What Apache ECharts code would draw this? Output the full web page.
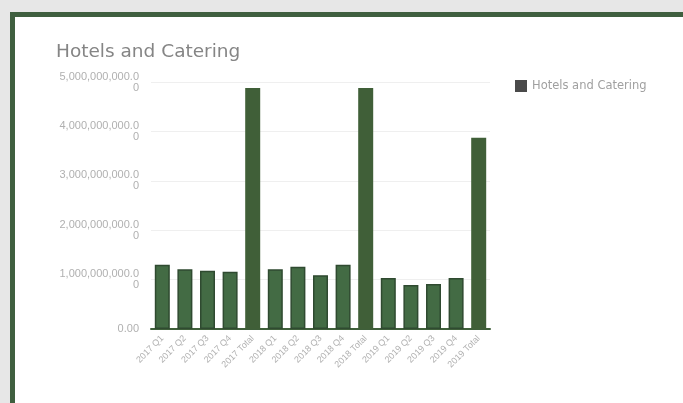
<!DOCTYPE html>
<html>
<head>
<meta charset="utf-8">
<script src="https://cdn.jsdelivr.net/npm/echarts@6/dist/echarts.min.js"></script>
<style>
  html, body { margin: 0; padding: 0; background: #e7e7e7; width: 683px; height: 403px; overflow: hidden; }
  #frame { position: absolute; left: 10px; top: 12px; width: 720px; height: 440px; border: 5px solid #3f5f3f; background: #fff; box-sizing: border-box; }
  #chart { position: absolute; left: 0; top: 0; width: 683px; height: 403px; }
</style>
</head>
<body>
<div id="frame"></div>
<div id="chart"></div>
<script>
const titleText = 'Hotels and Catering';
const seriesName = 'Hotels and Catering';
const categories = [
  '2017 Q1', '2017 Q2', '2017 Q3', '2017 Q4', '2017 Total',
  '2018 Q1', '2018 Q2', '2018 Q3', '2018 Q4', '2018 Total',
  '2019 Q1', '2019 Q2', '2019 Q3', '2019 Q4', '2019 Total'
];
const values = [
  1300000000, 1210000000, 1180000000, 1160000000, 4880000000,
  1210000000, 1260000000, 1090000000, 1300000000, 4880000000,
  1030000000, 890000000, 910000000, 1030000000, 3870000000
];
const isTotal = [false, false, false, false, true, false, false, false, false, true, false, false, false, false, true];
const yMin = 0, yMax = 5000000000, yInterval = 1000000000;

const chart = echarts.init(document.getElementById('chart'));
chart.setOption({
  backgroundColor: 'transparent',
  animation: false,
  title: {
    text: titleText, left: 51, top: 38,
    textStyle: { fontSize: 18.5, fontWeight: 'normal', color: '#858585', fontFamily: 'DejaVu Sans' }
  },
  legend: {
    left: 510, top: 75, icon: 'rect', itemWidth: 12, itemHeight: 12, itemGap: 8,
    textStyle: { fontSize: 11.5, color: '#a0a0a0', fontFamily: 'DejaVu Sans' },
    data: [seriesName]
  },
  grid: { left: 151, right: 683 - 490, top: 82, bottom: 403 - 329, containLabel: false },
  xAxis: {
    type: 'category', data: categories,
    axisLine: { lineStyle: { color: '#3f5f3a', width: 2 } },
    axisTick: { show: false },
    axisLabel: { rotate: 45, fontSize: 9, color: '#b0b0b0', margin: 8, interval: 0 }
  },
  yAxis: {
    type: 'value', min: yMin, max: yMax, interval: yInterval,
    axisLine: { show: false }, axisTick: { show: false },
    splitLine: { lineStyle: { color: '#efefef' } },
    axisLabel: {
      fontSize: 11, color: '#b0b0b0', margin: 12, width: 80, overflow: 'breakAll',
      formatter: v => v.toLocaleString('en-US', { minimumFractionDigits: 2, maximumFractionDigits: 2 })
    }
  },
  series: [{
    name: seriesName, type: 'bar', barWidth: 15,
    itemStyle: { color: '#4a4a4a' },
    data: values.map((v, i) => ({
      value: v,
      itemStyle: isTotal[i]
        ? { color: '#405f38' }
        : { color: '#436b44', borderColor: '#2f4a30', borderWidth: 1.5 }
    }))
  }]
});
</script>
</body>
</html>
